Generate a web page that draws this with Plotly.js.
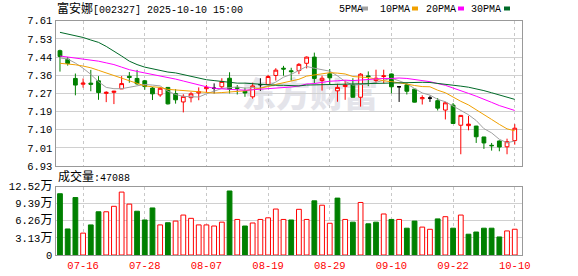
<!DOCTYPE html>
<html><head><meta charset="utf-8">
<script src="https://cdn.plot.ly/plotly-3.0.1.min.js"></script>
<style>html,body{margin:0;padding:0;background:#fff;}#c{width:578px;height:276px;}</style>
</head><body><div id="c"></div>
<script>
const dates = ['07-11','07-14','07-15','07-16','07-17','07-18','07-21','07-22','07-23','07-24','07-25','07-28','07-29','07-30','07-31','08-01','08-04','08-05','08-06','08-07','08-08','08-11','08-12','08-13','08-14','08-15','08-18','08-19','08-20','08-21','08-22','08-25','08-26','08-27','08-28','08-29','09-01','09-02','09-03','09-04','09-05','09-08','09-09','09-10','09-11','09-12','09-15','09-16','09-17','09-18','09-19','09-22','09-23','09-24','09-25','09-26','09-29','09-30','10-09','10-10'];
const openP  = [7.470,7.430,7.340,7.313,7.318,7.329,7.270,7.275,7.291,7.350,7.340,7.329,7.295,7.263,7.298,7.269,7.230,7.250,7.272,7.292,7.294,7.301,7.341,7.298,7.280,7.254,7.311,7.312,7.354,7.388,7.376,7.377,7.411,7.440,7.330,7.362,7.282,7.302,7.310,7.252,7.352,7.330,7.349,7.361,7.301,7.310,7.290,7.245,7.248,7.236,7.192,7.215,7.121,7.119,7.117,7.066,7.027,7.047,7.020,7.049];
const highP  = [7.475,7.440,7.363,7.340,7.380,7.351,7.280,7.282,7.351,7.370,7.380,7.333,7.300,7.300,7.300,7.290,7.266,7.276,7.298,7.310,7.317,7.341,7.369,7.309,7.297,7.320,7.341,7.357,7.388,7.399,7.390,7.412,7.443,7.461,7.353,7.384,7.315,7.331,7.341,7.365,7.373,7.381,7.381,7.363,7.301,7.318,7.290,7.261,7.259,7.248,7.231,7.225,7.168,7.165,7.118,7.066,7.038,7.050,7.058,7.126];
const lowP   = [7.372,7.400,7.261,7.297,7.280,7.240,7.229,7.220,7.291,7.320,7.310,7.287,7.239,7.254,7.218,7.222,7.181,7.228,7.238,7.273,7.270,7.292,7.270,7.265,7.254,7.245,7.282,7.310,7.330,7.353,7.330,7.360,7.387,7.318,7.283,7.310,7.231,7.240,7.251,7.208,7.304,7.318,7.317,7.270,7.230,7.265,7.228,7.218,7.230,7.190,7.148,7.129,6.985,7.097,7.038,7.010,7.002,6.999,6.985,7.030];
const closeP = [7.443,7.410,7.309,7.318,7.313,7.274,7.275,7.280,7.316,7.345,7.315,7.302,7.268,7.294,7.221,7.240,7.256,7.268,7.278,7.298,7.294,7.326,7.290,7.294,7.272,7.305,7.311,7.349,7.379,7.384,7.372,7.406,7.440,7.340,7.341,7.343,7.298,7.309,7.252,7.360,7.349,7.341,7.352,7.301,7.301,7.280,7.229,7.250,7.248,7.201,7.226,7.129,7.167,7.126,7.067,7.038,7.025,7.019,7.044,7.107];
const volume = [11.2,4.76,10.5,4.0,5.5,7.9,7.9,8.9,11.5,9.3,8.0,6.4,8.6,5.5,5.9,6.2,7.3,6.7,5.5,5.5,5.3,6.0,11.7,6.5,5.3,5.85,6.5,6.8,8.4,6.5,6.4,8.35,6.5,9.9,9.1,5.8,10.4,6.5,6.0,9.6,5.7,6.0,7.5,6.5,6.5,4.9,6.2,5.1,4.7,6.6,7.0,4.9,7.3,3.8,4.2,4.9,4.9,3.3,4.4,4.7088];
const volUp = [0,0,0,1,0,0,1,1,1,1,0,0,0,1,0,1,1,1,1,1,1,1,0,1,0,1,1,1,1,1,0,1,1,0,1,1,0,1,0,1,0,0,1,0,1,0,0,1,1,0,1,0,1,0,0,0,0,0,1,1];
const ma5  = [7.436,7.431,7.412,7.388,7.359,7.325,7.298,7.292,7.292,7.298,7.306,7.312,7.309,7.305,7.280,7.265,7.256,7.256,7.253,7.268,7.279,7.293,7.297,7.300,7.295,7.297,7.294,7.306,7.323,7.346,7.359,7.378,7.396,7.388,7.380,7.374,7.352,7.326,7.309,7.312,7.314,7.322,7.331,7.341,7.329,7.315,7.293,7.272,7.262,7.242,7.231,7.211,7.194,7.170,7.143,7.105,7.085,7.055,7.039,7.047];
const ma10 = [7.411,7.408,7.404,7.398,7.390,7.378,7.366,7.352,7.340,7.328,7.316,7.305,7.301,7.298,7.289,7.286,7.284,7.283,7.279,7.274,7.272,7.274,7.277,7.277,7.282,7.288,7.294,7.302,7.312,7.320,7.328,7.336,7.351,7.356,7.363,7.367,7.365,7.361,7.349,7.346,7.344,7.337,7.329,7.325,7.321,7.314,7.307,7.302,7.301,7.285,7.273,7.252,7.233,7.216,7.192,7.168,7.148,7.125,7.104,7.095];
const ma20 = [7.445,7.440,7.436,7.432,7.427,7.421,7.413,7.405,7.393,7.381,7.373,7.366,7.360,7.352,7.345,7.337,7.328,7.318,7.309,7.301,7.294,7.290,7.289,7.287,7.285,7.287,7.289,7.292,7.295,7.297,7.300,7.305,7.314,7.316,7.322,7.327,7.329,7.332,7.330,7.333,7.336,7.337,7.340,7.340,7.342,7.340,7.336,7.331,7.325,7.316,7.308,7.295,7.281,7.270,7.257,7.241,7.228,7.213,7.203,7.190];
const ma30 = [7.556,7.548,7.540,7.532,7.520,7.509,7.490,7.469,7.445,7.421,7.405,7.393,7.385,7.377,7.370,7.366,7.358,7.350,7.343,7.334,7.330,7.326,7.322,7.318,7.318,7.315,7.312,7.310,7.308,7.308,7.305,7.305,7.309,7.310,7.311,7.313,7.314,7.315,7.313,7.314,7.315,7.316,7.319,7.319,7.322,7.323,7.322,7.322,7.321,7.317,7.315,7.308,7.304,7.299,7.292,7.283,7.273,7.262,7.251,7.242];
const dateTicks = ['07-16','07-28','08-07','08-19','08-29','09-10','09-22','10-10'];
const priceTicks = [6.93,7.015,7.10,7.185,7.27,7.355,7.44,7.525,7.61];
const priceLabels = ['6.93','7.01','7.10','7.19','7.27','7.36','7.44','7.53','7.61'];
const volTicks = [0,3.13,6.26,9.39,12.52];
const volLabels = ['0','3.13万','6.26万','9.39万','12.52万'];
const maNames = ['5PMA','10PMA','20PMA','30PMA'];

const RED='#ff0000', GREEN='#008000', W=578, H=276;
const MA_COLORS=['#a0a0a0','#f0a000','#ff00ff','#006a28'];
const FONT="Liberation Mono, 'Noto Sans CJK SC', monospace";
const px=x=>x/W, py=y=>1-y/H;
const cjk=t=>t.replace(/([\u4e00-\u9fff]+)/g,'<span style="font-size:12px">$1</span>');

function subset(pred){
  const idx=dates.map((d,i)=>i).filter(pred);
  return {x:idx.map(i=>dates[i]),open:idx.map(i=>openP[i]),high:idx.map(i=>highP[i]),low:idx.map(i=>lowP[i]),close:idx.map(i=>closeP[i])};
}
function candle(pred,lineColor,fill){
  return Object.assign({type:'candlestick',xaxis:'x',yaxis:'y',hoverinfo:'skip',whiskerwidth:0,
    increasing:{line:{color:lineColor,width:1},fillcolor:fill},
    decreasing:{line:{color:lineColor,width:1},fillcolor:fill}},subset(pred));
}
const traces=[
  candle(i=>closeP[i]>openP[i],RED,'#ffffff'),
  candle(i=>closeP[i]<openP[i],GREEN,GREEN),
  candle(i=>closeP[i]===openP[i],'#000000','#000000')
];
[ma5,ma10,ma20,ma30].forEach((m,k)=>traces.push({type:'scatter',mode:'lines',x:dates,y:m,xaxis:'x',yaxis:'y',
  line:{color:MA_COLORS[k],width:1},hoverinfo:'skip'}));
traces.push({type:'bar',x:dates,y:volume,xaxis:'x2',yaxis:'y2',width:0.62,hoverinfo:'skip',
  marker:{color:volUp.map(u=>u?'#ffffff':GREEN),line:{color:volUp.map(u=>u?RED:GREEN),width:1}}});

const xdom=[px(55.5),px(522.3)];
const xcommon={type:'category',categoryorder:'array',categoryarray:dates,range:[-0.58,59.98],domain:xdom,
  tickvals:dateTicks,showgrid:true,gridcolor:'#c8c8c8',griddash:'3px,3px',gridwidth:1,
  showline:true,mirror:true,linecolor:'#999999',linewidth:1,zeroline:false,ticks:'',fixedrange:true};
const shapes=[{type:'rect',xref:'x domain',yref:'y domain',x0:0.39,x1:0.70,y0:0.37,y1:0.57,layer:'below',
  line:{width:0},fillcolor:'rgba(0,0,0,0)',
  label:{text:'东方财富',textposition:'middle center',font:{size:34,color:'#e4e4ea',family:"'Noto Sans CJK SC'",weight:900}}}];
const legX=[337.5,379,425,470], sqX=[362,412,458,504];
const annotations=[
  {xref:'paper',yref:'paper',x:px(55),y:py(9.2),xanchor:'left',yanchor:'middle',showarrow:false,
   text:cjk('富安娜[002327] 2025-10-10 15:00'),font:{family:FONT,size:10,color:'#000'}},
  {xref:'paper',yref:'paper',x:px(56),y:py(177),xanchor:'left',yanchor:'middle',showarrow:false,
   text:cjk('成交量:'+Math.round(volume[volume.length-1]*10000)),font:{family:FONT,size:10,color:'#000'}}
];
maNames.forEach((n,k)=>{
  annotations.push({xref:'paper',yref:'paper',x:px(legX[k]-1),y:py(9.2),xanchor:'left',yanchor:'middle',showarrow:false,
    text:n,font:{family:FONT,size:10,color:'#000'}});
  shapes.push({type:'rect',xref:'paper',yref:'paper',x0:px(sqX[k]),x1:px(sqX[k]+6),y0:py(10.5),y1:py(6.5),
    line:{width:0},fillcolor:MA_COLORS[k]});
});
const layout={width:W,height:H,margin:{l:0,r:0,t:0,b:0},paper_bgcolor:'#fff',plot_bgcolor:'rgba(0,0,0,0)',
  showlegend:false,hovermode:false,dragmode:false,
  xaxis:Object.assign({},xcommon,{anchor:'y',showticklabels:false,rangeslider:{visible:false}}),
  xaxis2:Object.assign({},xcommon,{anchor:'y2',showticklabels:true,tickfont:{family:FONT,size:10.5,color:RED}}),
  yaxis:{domain:[py(166),py(20.8)],range:[6.93,7.61],tickvals:priceTicks,ticktext:priceLabels,showgrid:true,
    gridcolor:'#d0d0d0',gridwidth:1,showline:true,mirror:true,linecolor:'#999999',linewidth:1,zeroline:false,ticks:'',
    tickfont:{family:FONT,size:10.5,color:'#000'},anchor:'x',fixedrange:true},
  yaxis2:{domain:[py(255),py(186.5)],range:[0,12.52],tickvals:volTicks,ticktext:volLabels.map(cjk),showgrid:true,
    gridcolor:'#d0d0d0',gridwidth:1,showline:true,mirror:true,linecolor:'#999999',linewidth:1,zeroline:false,ticks:'',
    tickfont:{family:FONT,size:10.5,color:'#000'},anchor:'x2',fixedrange:true},
  shapes:shapes,annotations:annotations};
Plotly.newPlot('c',traces,layout,{displayModeBar:false,staticPlot:true});
</script></body></html>
